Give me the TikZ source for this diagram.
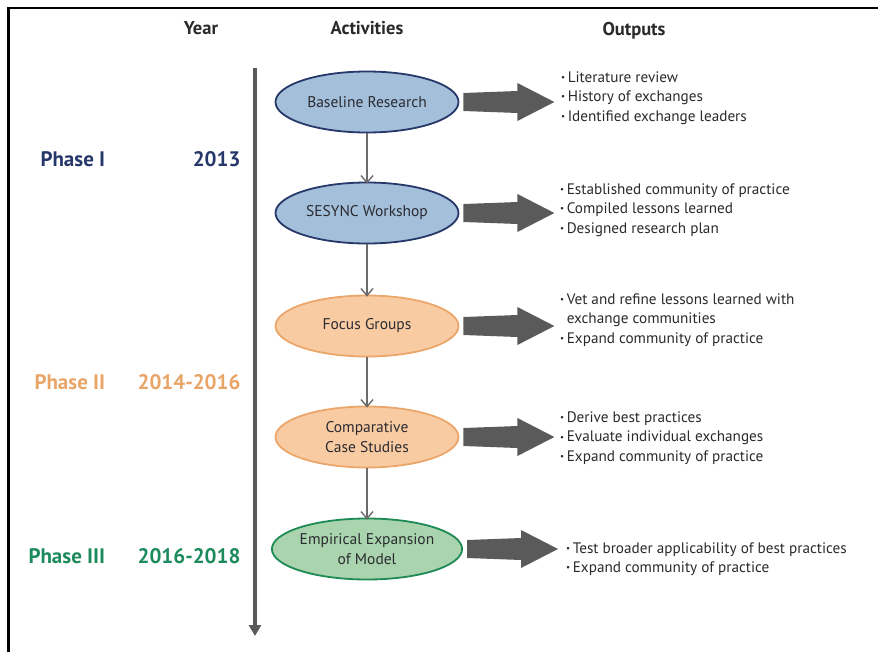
\documentclass[tikz,border=0pt]{standalone}
\usepackage{fontspec}
\setmainfont{PT Sans}
\usetikzlibrary{arrows.meta,calc,shapes.geometric}
\definecolor{navy}{HTML}{26386A}
\definecolor{bluefill}{HTML}{A4BFDA}
\definecolor{orangetxt}{HTML}{E9A468}
\definecolor{orangefill}{HTML}{F9CBA3}
\definecolor{orangeline}{HTML}{EBA76B}
\definecolor{greentxt}{HTML}{1C8A5C}
\definecolor{greenfill}{HTML}{AAD4AE}
\definecolor{greenline}{HTML}{1E8A55}
\definecolor{darkgray}{HTML}{5A5A5A}
\definecolor{inktext}{HTML}{2A2A2A}
\tikzset{
  header/.style={font=\fontsize{18.5}{20}\selectfont\bfseries, text=inktext},
  phase/.style={font=\fontsize{21}{24}\selectfont\bfseries},
  activity/.style={ellipse, minimum width=183, minimum height=61, line width=1.8,
    align=center, font=\fontsize{15.5}{20}\selectfont, text=inktext!90!navy, inner sep=0},
  phaseone/.style={activity, draw=navy, fill=bluefill},
  phasetwo/.style={activity, draw=orangeline, fill=orangefill},
  phasethree/.style={activity, draw=greenline, fill=greenfill},
  outputs/.style={anchor=west, align=left, font=\fontsize{15.2}{19.5}\selectfont,
    text=inktext, inner sep=0},
  flow/.style={draw=darkgray!90, line width=1.6, -{Straight Barb[length=7,width=12,line width=1.4]}},
  timeline/.style={draw=darkgray, line width=3.8, -{Triangle[length=11,width=12]}},
  fatarrow/.style={fill=darkgray},
}
\newcommand{\outbullet}{{\fontsize{9}{10}\selectfont\raisebox{1.8pt}{•}}\,}
% block arrow leaving the east side of an activity
\newcommand{\blockarrow}[1]{%
  \fill[fatarrow] ($(#1.east)+(4,-9)$) -- ($(#1.east)+(58,-11)$) -- ($(#1.east)+(58,-19)$)
    -- ($(#1.east)+(95,0)$) -- ($(#1.east)+(58,19)$) -- ($(#1.east)+(58,11)$)
    -- ($(#1.east)+(4,9)$) -- cycle;}
\begin{document}
\begin{tikzpicture}[x=1pt,y=-1pt]
\useasboundingbox (0,0) rectangle (878,651);
% frame
\draw[line width=2.2] (8.5,660) -- (8.5,8) -- (890,8);

% column headers
\node[header] (hyear) at (201,28) {Year};
\node[header] (hact) at (367,28) {Activities};
\node[header] (hout) at (634,31) {Outputs};

% timeline
\coordinate (tltop) at (255,68);
\coordinate (tlbot) at (255,636);
\draw[timeline] (tltop) -- (tlbot);

% phases and years
\node[phase, text=navy, anchor=west] (p1) at (37,159) {Phase I};
\node[phase, text=navy, anchor=east] (y1) at (244,159) {2013};
\node[phase, text=orangetxt, anchor=west] (p2) at (31,382) {Phase II};
\node[phase, text=orangetxt, anchor=east] (y2) at (244,382) {2014-2016};
\node[phase, text=greentxt, anchor=west] (p3) at (25,556) {Phase III};
\node[phase, text=greentxt, anchor=east] (y3) at (244,556) {2016-2018};

% activities
\node[phaseone] (a1) at (367,102) {Baseline Research};
\node[phaseone] (a2) at (367,213) {SESYNC Workshop};
\node[phasetwo] (a3) at (367,326) {Focus Groups};
\node[phasetwo] (a4) at (367,437) {Comparative\\Case Studies};
\node[phasethree] (a5) at (367,549) {Empirical Expansion\\of Model};

\draw[flow] (a1.south) -- ([yshift=-2]a2.north);
\draw[flow] (a2.south) -- ([yshift=-2]a3.north);
\draw[flow] (a3.south) -- ([yshift=-2]a4.north);
\draw[flow] (a4.south) -- ([yshift=-2]a5.north);

% outputs
\node[outputs] (o1) at (561,98) {\outbullet Literature review\\\outbullet History of exchanges\\\outbullet Identified exchange leaders};
\node[outputs] (o2) at (560,210) {\outbullet Established community of practice\\\outbullet Compiled lessons learned\\\outbullet Designed research plan};
\node[outputs] (o3) at (560,320) {\outbullet Vet and refine lessons learned with\\\phantom{\outbullet}exchange communities\\\outbullet Expand community of practice};
\node[outputs] (o4) at (560,438) {\outbullet Derive best practices\\\outbullet Evaluate individual exchanges\\\outbullet Expand community of practice};
\node[outputs] (o5) at (566,559) {\outbullet Test broader applicability of best practices\\\outbullet Expand community of practice};

\blockarrow{a1}
\blockarrow{a2}
\blockarrow{a3}
\blockarrow{a4}
\blockarrow{a5}
\end{tikzpicture}
\end{document}
